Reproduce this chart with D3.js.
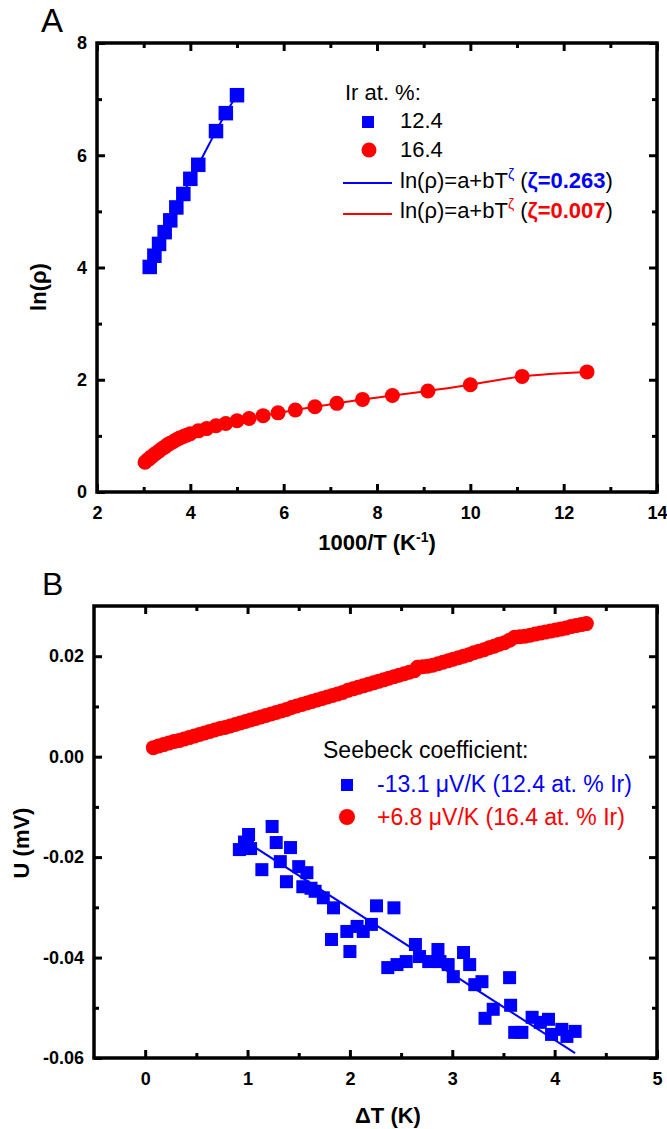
<!DOCTYPE html>
<html>
<head>
<meta charset="utf-8">
<script src="https://cdn.jsdelivr.net/npm/d3@7"></script>
<style>
  body { margin: 0; background: #fff; }
  svg { display: block; }
</style>
</head>
<body>
<svg id="fig" width="667" height="1129"></svg>
<script>
// ---------- Panel A: ln(rho) versus 1000/T ----------
const irContent = ["12.4", "16.4"];
const zeta = [0.263, 0.007];

const invT12  = [3.13, 3.23, 3.33, 3.45, 3.57, 3.70, 3.85, 4.00, 4.17, 4.55, 4.76, 5.00];
const lnRho12 = [4.01, 4.21, 4.42, 4.63, 4.84, 5.07, 5.31, 5.58, 5.83, 6.43, 6.75, 7.07];

const invT16  = [3.03, 3.08, 3.13, 3.17, 3.23, 3.28, 3.33, 3.39, 3.45, 3.51, 3.57, 3.64, 3.70,
                 3.77, 3.85, 3.92, 4.00, 4.17, 4.35, 4.55, 4.76, 5.00, 5.26, 5.56, 5.88, 6.25,
                 6.67, 7.14, 7.69, 8.33, 9.09, 10.00, 11.11, 12.50];
const lnRho16 = [0.53, 0.57, 0.60, 0.63, 0.67, 0.70, 0.73, 0.77, 0.80, 0.84, 0.87, 0.90, 0.93,
                 0.96, 0.99, 1.01, 1.04, 1.09, 1.13, 1.18, 1.22, 1.27, 1.31, 1.36, 1.41, 1.46,
                 1.52, 1.58, 1.65, 1.72, 1.80, 1.91, 2.06, 2.14];

// ---------- Panel B: thermovoltage U versus temperature difference ----------
const seebeck = [-13.1, 6.8];           // µV/K
const fit12Intercept = -0.0040;         // mV
const fit12Range = [1.0, 4.2];          // K

const dT12 = [0.92, 0.97, 1.00, 1.01, 1.03, 1.14, 1.24, 1.28, 1.32, 1.38, 1.42, 1.50, 1.54,
              1.58, 1.62, 1.66, 1.74, 1.82, 1.84, 1.97, 2.00, 2.07, 2.13, 2.21, 2.26, 2.37,
              2.43, 2.46, 2.55, 2.64, 2.68, 2.77, 2.86, 2.88, 2.96, 3.01, 3.11, 3.17, 3.22,
              3.29, 3.32, 3.40, 3.56, 3.57, 3.61, 3.68, 3.78, 3.86, 3.94, 3.97, 4.07, 4.12, 4.20];
const u12  = [-0.0185, -0.0170, -0.0178, -0.0155, -0.0183, -0.0225, -0.0139, -0.0171, -0.0209,
              -0.0249, -0.0181, -0.0219, -0.0259, -0.0231, -0.0262, -0.0268, -0.0281, -0.0364,
              -0.0301, -0.0348, -0.0388, -0.0338, -0.0348, -0.0334, -0.0297, -0.0420, -0.0301,
              -0.0414, -0.0408, -0.0374, -0.0398, -0.0408, -0.0384, -0.0408, -0.0414, -0.0438,
              -0.0390, -0.0414, -0.0454, -0.0448, -0.0521, -0.0503, -0.0440, -0.0495, -0.0549,
              -0.0549, -0.0519, -0.0529, -0.0523, -0.0553, -0.0543, -0.0557, -0.0547];

const dT16 = [0.08, 0.13, 0.18, 0.23, 0.28, 0.33, 0.38, 0.43, 0.48, 0.53, 0.58, 0.63, 0.68, 0.73,
              0.78, 0.83, 0.88, 0.93, 0.98, 1.03, 1.08, 1.13, 1.18, 1.23, 1.28, 1.33, 1.38, 1.43,
              1.48, 1.53, 1.58, 1.63, 1.68, 1.73, 1.78, 1.83, 1.88, 1.93, 1.98, 2.03, 2.08, 2.13,
              2.18, 2.23, 2.28, 2.33, 2.38, 2.43, 2.48, 2.53, 2.58, 2.63, 2.66, 2.71, 2.76, 2.81,
              2.86, 2.91, 2.96, 3.01, 3.06, 3.11, 3.16, 3.21, 3.26, 3.31, 3.36, 3.41, 3.46, 3.51,
              3.56, 3.61, 3.66, 3.71, 3.76, 3.81, 3.86, 3.91, 3.96, 4.01, 4.06, 4.11, 4.16, 4.21,
              4.26, 4.31];
const u16  = [0.0018, 0.0021, 0.0024, 0.0027, 0.0030, 0.0032, 0.0035, 0.0038, 0.0041, 0.0044,
              0.0047, 0.0050, 0.0053, 0.0056, 0.0058, 0.0061, 0.0064, 0.0067, 0.0070, 0.0073,
              0.0076, 0.0079, 0.0082, 0.0085, 0.0088, 0.0091, 0.0094, 0.0098, 0.0101, 0.0104,
              0.0107, 0.0110, 0.0113, 0.0116, 0.0119, 0.0122, 0.0125, 0.0128, 0.0132, 0.0135,
              0.0138, 0.0141, 0.0144, 0.0147, 0.0150, 0.0153, 0.0156, 0.0159, 0.0162, 0.0165,
              0.0168, 0.0171, 0.0178, 0.0179, 0.0180, 0.0182, 0.0185, 0.0188, 0.0191, 0.0194,
              0.0197, 0.0200, 0.0203, 0.0207, 0.0210, 0.0213, 0.0217, 0.0220, 0.0224, 0.0227,
              0.0232, 0.0238, 0.0239, 0.0240, 0.0242, 0.0244, 0.0246, 0.0248, 0.0250, 0.0252,
              0.0254, 0.0256, 0.0259, 0.0261, 0.0263, 0.0265];

// ---------- Ticks ----------
const xTicksA = [2, 4, 6, 8, 10, 12, 14], xMinorA = [3, 5, 7, 9, 11, 13];
const yTicksA = [0, 2, 4, 6, 8],          yMinorA = [1, 3, 5, 7];
const xTicksB = [0, 1, 2, 3, 4, 5],       xMinorB = [0.5, 1.5, 2.5, 3.5, 4.5];
const yTicksB = [-0.06, -0.04, -0.02, 0, 0.02], yMinorB = [-0.05, -0.03, -0.01, 0.01];

const BLUE = "#0000ff", RED = "#ff0000";
const FONT = "'Liberation Sans', Arial, Helvetica, sans-serif";

const svg = d3.select("#fig");

const xA = d3.scaleLinear().domain([2, 14]).range([97, 657]);
const yA = d3.scaleLinear().domain([0, 8]).range([492, 43]);
const xB = d3.scaleLinear().domain([-0.5, 5]).range([94, 657]);
const yB = d3.scaleLinear().domain([-0.06, 0.03]).range([1058, 606]);

// Boxed frame with inward ticks on all four sides, labels on bottom and left.
function drawFrame(x, y, xMaj, xMin, yMaj, yMin, xFmt, yFmt) {
  const [x0, x1] = x.range(), [y0, y1] = y.range();
  const g = svg.append("g");
  const style = sel => {
    sel.select(".domain").remove();
    sel.attr("font-size", 18).attr("font-family", FONT).attr("font-weight", "bold");
    sel.selectAll(".tick line").attr("stroke-width", 3);
    sel.selectAll(".tick text").attr("fill", "#000");
  };
  g.append("g").attr("transform", `translate(0,${y0})`)
    .call(d3.axisBottom(x).tickValues(xMaj).tickSize(-8).tickPadding(14).tickFormat(xFmt)).call(style);
  g.append("g").attr("transform", `translate(0,${y0})`)
    .call(d3.axisBottom(x).tickValues(xMin).tickSize(-5).tickFormat("")).call(style);
  g.append("g").attr("transform", `translate(0,${y1})`)
    .call(d3.axisTop(x).tickValues(xMaj).tickSize(-8).tickFormat("")).call(style);
  g.append("g").attr("transform", `translate(0,${y1})`)
    .call(d3.axisTop(x).tickValues(xMin).tickSize(-5).tickFormat("")).call(style);
  g.append("g").attr("transform", `translate(${x0},0)`)
    .call(d3.axisLeft(y).tickValues(yMaj).tickSize(-8).tickPadding(10).tickFormat(yFmt)).call(style);
  g.append("g").attr("transform", `translate(${x0},0)`)
    .call(d3.axisLeft(y).tickValues(yMin).tickSize(-5).tickFormat("")).call(style);
  g.append("g").attr("transform", `translate(${x1},0)`)
    .call(d3.axisRight(y).tickValues(yMaj).tickSize(-8).tickFormat("")).call(style);
  g.append("g").attr("transform", `translate(${x1},0)`)
    .call(d3.axisRight(y).tickValues(yMin).tickSize(-5).tickFormat("")).call(style);
  g.append("rect")
    .attr("x", x0).attr("y", y1).attr("width", x1 - x0).attr("height", y0 - y1)
    .attr("fill", "none").attr("stroke", "#000").attr("stroke-width", 3.5);
}

function squares(xs, ys, x, y, side, color) {
  svg.append("g").selectAll("rect").data(xs.map((v, i) => [v, ys[i]])).join("rect")
    .attr("x", d => x(d[0]) - side / 2).attr("y", d => y(d[1]) - side / 2)
    .attr("width", side).attr("height", side).attr("fill", color);
}
function circles(xs, ys, x, y, r, color) {
  svg.append("g").selectAll("circle").data(xs.map((v, i) => [v, ys[i]])).join("circle")
    .attr("cx", d => x(d[0])).attr("cy", d => y(d[1])).attr("r", r).attr("fill", color);
}
function curve(xs, ys, x, y, color) {
  const line = d3.line().x(d => x(d[0])).y(d => y(d[1])).curve(d3.curveMonotoneX);
  svg.append("path").datum(xs.map((v, i) => [v, ys[i]]))
    .attr("d", line).attr("fill", "none").attr("stroke", color).attr("stroke-width", 2);
}

// plain hyphen for negative tick values
const fmtU = d => (Math.abs(d) < 1e-12 ? 0 : d).toFixed(2);

// ---------- Panel A ----------
svg.append("text").attr("x", 41).attr("y", 32).attr("font-family", FONT)
  .attr("font-size", 33).text("A");

curve(invT16, lnRho16, xA, yA, RED);
circles(invT16, lnRho16, xA, yA, 7.5, RED);
curve(invT12, lnRho12, xA, yA, BLUE);
squares(invT12, lnRho12, xA, yA, 14.5, BLUE);

drawFrame(xA, yA, xTicksA, xMinorA, yTicksA, yMinorA, d3.format("d"), d3.format("d"));

const xtA = svg.append("text").attr("x", 377).attr("y", 550).attr("text-anchor", "middle")
  .attr("font-family", FONT).attr("font-size", 22).attr("font-weight", "bold");
xtA.append("tspan").text("1000/T (K");
xtA.append("tspan").attr("font-size", 14).attr("dy", -8).text("-1");
xtA.append("tspan").attr("dy", 8).text(")");

svg.append("text").attr("transform", "translate(46,287) rotate(-90)")
  .attr("text-anchor", "middle").attr("font-family", FONT).attr("font-size", 22)
  .attr("font-weight", "bold").text("ln(ρ)");

// Legend A
const legA = svg.append("g").attr("font-family", FONT).attr("font-size", 22);
legA.append("text").attr("x", 345).attr("y", 100).text("Ir at. %:");
legA.append("rect").attr("x", 362).attr("y", 116).attr("width", 12).attr("height", 12).attr("fill", BLUE);
legA.append("text").attr("x", 400).attr("y", 128).text(irContent[0]);
legA.append("circle").attr("cx", 369).attr("cy", 150).attr("r", 7.5).attr("fill", RED);
legA.append("text").attr("x", 400).attr("y", 157).text(irContent[1]);
[[BLUE, 183, 188], [RED, 214, 218]].forEach(([c, ly, ty], i) => {
  legA.append("line").attr("x1", 343).attr("x2", 392).attr("y1", ly).attr("y2", ly)
    .attr("stroke", c).attr("stroke-width", 2);
  const t = legA.append("text").attr("x", 400).attr("y", ty);
  t.append("tspan").text("ln(ρ)=a+bT");
  t.append("tspan").attr("font-size", 14).attr("dy", -9).attr("fill", c).text("ζ");
  t.append("tspan").attr("dy", 9).text(" (");
  t.append("tspan").attr("fill", c).attr("font-weight", "bold").text("ζ=" + zeta[i].toFixed(3));
  t.append("tspan").text(")");
});

// ---------- Panel B ----------
svg.append("text").attr("x", 42).attr("y", 595).attr("font-family", FONT)
  .attr("font-size", 32).text("B");

circles(dT16, u16, xB, yB, 7.5, RED);

const fitLine = fit12Range.map(t => [t, fit12Intercept + seebeck[0] / 1000 * t]);
svg.append("path").datum(fitLine)
  .attr("d", d3.line().x(d => xB(d[0])).y(d => yB(d[1])))
  .attr("fill", "none").attr("stroke", BLUE).attr("stroke-width", 2);
squares(dT12, u12, xB, yB, 13, BLUE);

drawFrame(xB, yB, xTicksB, xMinorB, yTicksB, yMinorB, d3.format("d"), fmtU);

svg.append("text").attr("x", 388).attr("y", 1123).attr("text-anchor", "middle")
  .attr("font-family", FONT).attr("font-size", 22).attr("font-weight", "bold").text("ΔT (K)");

svg.append("text").attr("transform", "translate(29,843) rotate(-90)")
  .attr("text-anchor", "middle").attr("font-family", FONT).attr("font-size", 22)
  .attr("font-weight", "bold").text("U (mV)");

// Legend B
const fmtS = v => (v > 0 ? "+" : "") + v.toFixed(1);
const legB = svg.append("g").attr("font-family", FONT).attr("font-size", 23);
legB.append("text").attr("x", 323).attr("y", 758).attr("fill", "#000").text("Seebeck coefficient:");
legB.append("rect").attr("x", 341).attr("y", 779).attr("width", 12).attr("height", 12).attr("fill", BLUE);
legB.append("text").attr("x", 377).attr("y", 792).attr("fill", BLUE)
  .text(`${fmtS(seebeck[0])} μV/K (${irContent[0]} at. % Ir)`);
legB.append("circle").attr("cx", 347).attr("cy", 817).attr("r", 8).attr("fill", RED);
legB.append("text").attr("x", 377).attr("y", 825).attr("fill", RED)
  .text(`${fmtS(seebeck[1])} μV/K (${irContent[1]} at. % Ir)`);
</script>
</body>
</html>
